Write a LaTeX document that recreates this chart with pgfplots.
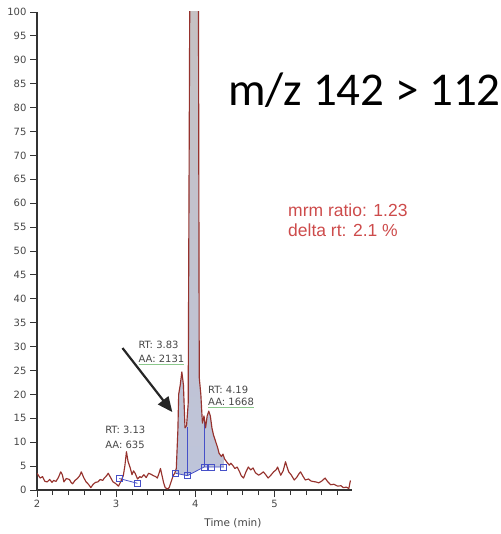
\documentclass[border=0pt]{standalone}
\usepackage{fontspec}
\setmainfont{DejaVu Sans}
\newfontfamily\libsans{Liberation Sans}
\newfontfamily\carlito{Carlito}
\usepackage{pgfplots}
\pgfplotsset{compat=1.18}
\usetikzlibrary{arrows.meta}
\definecolor{trace}{RGB}{150,50,45}
\definecolor{bl}{RGB}{70,80,200}
\definecolor{ann}{RGB}{70,70,70}
\definecolor{mrm}{RGB}{205,75,75}
\definecolor{ulg}{RGB}{140,200,140}
\definecolor{fillg}{RGB}{198,193,194}
\definecolor{fillb}{RGB}{190,196,218}
\newcommand\gul[1]{\setbox0\hbox{#1}\rlap{\textcolor{ulg}{\rule[-2pt]{\wd0}{0.8pt}}}\box0}
\begin{document}
\begin{tikzpicture}
\useasboundingbox (0,0) rectangle (500pt,534pt);
\begin{axis}[at={(37pt,44pt)}, anchor=south west, scale only axis,
  width=315pt, height=478pt,
  xmin=2, xmax=5.98, ymin=0, ymax=100,
  axis x line=bottom, axis y line=left,
  axis line style={-, line width=1.1pt, color=black!80},
  xtick={2,3,4,5},
  minor xtick={2.2,2.4,2.6,2.8,3.2,3.4,3.6,3.8,4.2,4.4,4.6,4.8,5.2,5.4,5.6,5.8},
  ytick={0,5,...,100},
  tick align=outside, major tick length=7pt, minor tick length=5pt,
  every tick/.style={black!80, line width=0.9pt},
  tick label style={font=\fontsize{10}{12}\selectfont, text=ann},
  /pgf/number format/assume math mode=true,
  xlabel={Time (min)},
  xlabel style={font=\fontsize{10.5}{12}\selectfont, text=ann, at={(axis description cs:0.622,0)}, anchor=center, yshift=-33pt},
]
% integrated peak area
\addplot[draw=none, top color=fillg, bottom color=fillb] coordinates {
(3.74,3.5) (3.76,4.5) (3.78,12.5) (3.79,20) (3.81,22) (3.83,24.7) (3.85,22) (3.87,13) (3.89,13.5) (3.91,18)
(3.93,102) (3.96,102) (4.00,102) (4.04,102) (4.05,23.5) (4.07,20) (4.09,14) (4.11,15.5) (4.13,13)
(4.15,15.5) (4.17,16.5) (4.19,15.5) (4.21,13) (4.23,11.5) (4.25,10.5) (4.28,9) (4.30,7.7) (4.33,7) (4.35,7.5) (4.37,6.5)
(4.36,4.8) (4.20,4.8) (4.11,4.8) (3.90,3.0) (3.75,3.5)} -- cycle;
% integration boundaries
\addplot[bl, line width=0.8pt] coordinates {(3.90,3.0) (3.90,13.2)};
\addplot[bl, line width=0.8pt] coordinates {(4.11,4.8) (4.11,15.3)};
\addplot[bl, line width=0.8pt] coordinates {(3.75,3.5) (3.90,3.0) (4.11,4.8) (4.20,4.8) (4.36,4.8)};
\addplot[bl, line width=0.8pt] coordinates {(3.04,2.4) (3.27,1.4)};
% chromatogram trace
\addplot[trace, line width=1.15pt, line join=round] table {
x y
2.00 3.5
2.02 3.0
2.04 2.5
2.07 2.8
2.10 1.8
2.13 1.7
2.16 2.2
2.19 1.6
2.21 2.0
2.24 1.8
2.27 2.6
2.30 3.8
2.32 3.2
2.34 1.7
2.37 2.4
2.41 2.2
2.43 1.6
2.45 1.3
2.48 2.0
2.51 2.4
2.54 3.0
2.56 3.8
2.59 2.6
2.62 1.7
2.65 1.2
2.68 0.5
2.71 1.2
2.74 1.6
2.77 1.7
2.80 2.2
2.83 2.0
2.85 2.5
2.88 3.0
2.90 3.5
2.93 2.6
2.96 1.7
2.99 1.4
3.03 0.8
3.06 1.8
3.09 3.0
3.11 5.0
3.13 8.0
3.15 6.0
3.18 4.5
3.20 3.2
3.22 4.0
3.24 3.5
3.27 2.3
3.30 2.8
3.32 2.6
3.35 3.2
3.38 2.6
3.41 3.5
3.44 3.3
3.47 3.0
3.50 2.8
3.52 2.5
3.54 3.4
3.56 4.5
3.58 3.0
3.60 1.5
3.62 0.5
3.65 0.2
3.67 0.5
3.70 2.0
3.72 3.0
3.74 3.5
3.76 4.5
3.78 12.5
3.79 20
3.81 22
3.83 24.7
3.85 22
3.87 13
3.89 13.5
3.91 18
3.93 102
3.96 102
4.00 102
4.04 102
4.05 23.5
4.07 20
4.09 14
4.11 15.5
4.13 13
4.15 15.5
4.17 16.5
4.19 15.5
4.21 13
4.23 11.5
4.25 10.5
4.28 9
4.30 7.7
4.33 7
4.35 7.5
4.37 6.5
4.40 5.8
4.43 5.2
4.45 5.6
4.48 5.0
4.50 4.5
4.53 4.8
4.56 3.8
4.58 3.0
4.61 2.5
4.64 3.8
4.67 4.8
4.70 4.2
4.73 4.6
4.76 3.6
4.80 3.1
4.83 3.4
4.86 3.8
4.89 3.2
4.92 2.5
4.95 3.0
4.99 3.8
5.02 4.2
5.04 4.8
5.06 3.9
5.08 3.1
5.11 4.0
5.14 5.9
5.16 4.8
5.18 3.8
5.21 3.2
5.25 2.1
5.28 2.6
5.31 3.4
5.33 3.8
5.36 2.9
5.39 2.1
5.43 2.3
5.46 1.9
5.48 1.8
5.52 1.7
5.56 1.5
5.60 1.9
5.64 2.5
5.67 1.8
5.71 1.1
5.75 1.2
5.80 0.8
5.84 0.9
5.87 0.5
5.91 0.6
5.94 0.3
5.96 2.0
};
% baseline markers
\addplot[only marks, mark=square, mark size=3pt, bl, mark options={line width=0.8pt}] coordinates {
(3.04,2.4) (3.27,1.4) (3.75,3.5) (3.90,3.0) (4.11,4.8) (4.20,4.8) (4.36,4.8)};
% annotations
\node[anchor=west, inner sep=0, font=\fontsize{10}{12}\selectfont, text=ann] at (axis cs:2.86,12.5) {RT: 3.13};
\node[anchor=west, inner sep=0, font=\fontsize{10}{12}\selectfont, text=ann] at (axis cs:2.86,9.4) {AA: 635};
\node[anchor=west, inner sep=0, font=\fontsize{10}{12}\selectfont, text=ann] at (axis cs:3.28,30.3) {RT: 3.83};
\node[anchor=west, inner sep=0, font=\fontsize{10}{12}\selectfont, text=ann] at (axis cs:3.28,27.2) {\gul{AA: 2131}};
\node[anchor=west, inner sep=0, font=\fontsize{10}{12}\selectfont, text=ann] at (axis cs:4.16,20.9) {RT: 4.19};
\node[anchor=west, inner sep=0, font=\fontsize{10}{12}\selectfont, text=ann] at (axis cs:4.16,18.2) {\gul{AA: 1668}};
\draw[line width=2.2pt, black!85, -{Triangle[length=15pt,width=13pt]}] (axis cs:3.08,29.7) -- (axis cs:3.71,16.3);
\end{axis}
\node[anchor=base west, inner sep=0, font=\carlito\fontsize{47}{50}\selectfont] at (228pt,428pt) {m/z 142 > 112};
\node[anchor=base west, inner sep=0, font=\libsans\fontsize{17.5}{20}\selectfont, text=mrm] at (288pt,317pt) {mrm ratio: 1.23};
\node[anchor=base west, inner sep=0, font=\libsans\fontsize{17.5}{20}\selectfont, text=mrm] at (288pt,297pt) {delta rt: 2.1 \%};
\end{tikzpicture}
\end{document}
